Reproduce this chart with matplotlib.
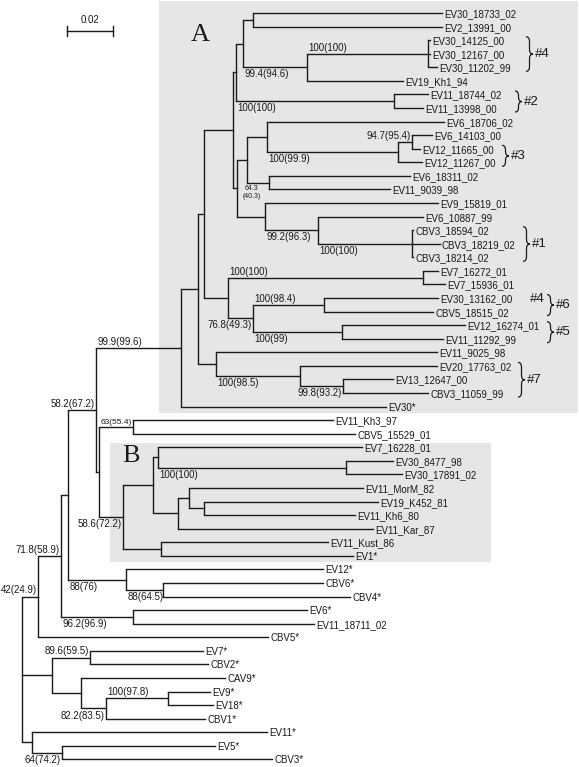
import matplotlib.pyplot as plt
from matplotlib.patches import Rectangle, PathPatch
from matplotlib.path import Path

# tips, top to bottom, and their distance from the root
tip_names = [
    "EV30_18733_02", "EV2_13991_00", "EV30_14125_00", "EV30_12167_00", "EV30_11202_99",
    "EV19_Kh1_94", "EV11_18744_02", "EV11_13998_00", "EV6_18706_02", "EV6_14103_00",
    "EV12_11665_00", "EV12_11267_00", "EV6_18311_02", "EV11_9039_98", "EV9_15819_01",
    "EV6_10887_99", "CBV3_18594_02", "CBV3_18219_02", "CBV3_18214_02", "EV7_16272_01",
    "EV7_15936_01", "EV30_13162_00", "CBV5_18515_02", "EV12_16274_01", "EV11_11292_99",
    "EV11_9025_98", "EV20_17763_02", "EV13_12647_00", "CBV3_11059_99", "EV30*",
    "EV11_Kh3_97", "CBV5_15529_01", "EV7_16228_01", "EV30_8477_98", "EV30_17891_02",
    "EV11_MorM_82", "EV19_K452_81", "EV11_Kh6_80", "EV11_Kar_87", "EV11_Kust_86",
    "EV1*", "EV12*", "CBV6*", "CBV4*", "EV6*", "EV11_18711_02", "CBV5*",
    "EV7*", "CBV2*", "CAV9*", "EV9*", "EV18*", "CBV1*", "EV11*", "EV5*", "CBV3*",
]
tip_depth = [
    0.1826, 0.1826, 0.1774, 0.1774, 0.1804,
    0.1657, 0.1765, 0.1743, 0.1835, 0.1783,
    0.1730, 0.1739, 0.1687, 0.1600, 0.1809,
    0.1743, 0.1700, 0.1817, 0.1700, 0.1809,
    0.1839, 0.1809, 0.1787, 0.1926, 0.1830,
    0.1804, 0.1804, 0.1613, 0.1765, 0.1583,
    0.1352, 0.1448, 0.1478, 0.1613, 0.1652,
    0.1483, 0.1548, 0.1448, 0.1526, 0.1330,
    0.1439, 0.1309, 0.1309, 0.1426, 0.1239, 0.1270, 0.1070,
    0.0787, 0.0809, 0.0883, 0.0817, 0.0830, 0.0796, 0.1065, 0.0839, 0.1087,
]

# internal nodes: id, children, distance from the root
node_ids = [
    "root", "n38", "n62", "n68", "n96", "A", "n198", "n204", "n233", "n236",
    "n243", "n253", "n307", "n428", "n394", "n237", "n247", "n267", "n398", "n412",
    "n269", "n265", "n318", "n412b", "n228", "n423", "n253b", "n324", "n342", "n216",
    "n300", "n343", "n99", "n133", "B", "n153", "n158", "n346", "n178", "n189",
    "n204b", "n161", "n126", "n163", "n133b", "n52", "n90", "n81", "n106", "n168",
    "n32", "n62b",
]
node_children = [
    ["n38", "n52", "n32"], ["n62", "CBV5*"], ["n68", "n133b"], ["n96", "n126"],
    ["A", "n99"], ["n198", "EV30*"], ["n204", "n216"], ["n233", "n228"],
    ["n236", "n237"], ["n243", "n394"], ["n253", "n307"],
    ["EV30_18733_02", "EV2_13991_00"], ["n428", "EV19_Kh1_94"],
    ["EV30_14125_00", "EV30_12167_00", "EV30_11202_99"],
    ["EV11_18744_02", "EV11_13998_00"], ["n247", "n265"], ["n267", "n269"],
    ["EV6_18706_02", "n398"], ["n412", "EV12_11267_00"],
    ["EV6_14103_00", "EV12_11665_00"], ["EV6_18311_02", "EV11_9039_98"],
    ["EV9_15819_01", "n318"], ["EV6_10887_99", "n412b"],
    ["CBV3_18594_02", "CBV3_18219_02", "CBV3_18214_02"], ["n423", "n253b"],
    ["EV7_16272_01", "EV7_15936_01"], ["n324", "n342"],
    ["EV30_13162_00", "CBV5_18515_02"], ["EV12_16274_01", "EV11_11292_99"],
    ["EV11_9025_98", "n300"], ["EV20_17763_02", "n343"],
    ["EV13_12647_00", "CBV3_11059_99"], ["n133", "B"],
    ["EV11_Kh3_97", "CBV5_15529_01"], ["n153", "n161"], ["n158", "n178"],
    ["EV7_16228_01", "n346"], ["EV30_8477_98", "EV30_17891_02"],
    ["n189", "EV11_Kar_87"], ["EV11_MorM_82", "n204b"],
    ["EV19_K452_81", "EV11_Kh6_80"], ["EV11_Kust_86", "EV1*"], ["EV12*", "n163"],
    ["CBV6*", "CBV4*"], ["EV6*", "EV11_18711_02"], ["n90", "n81"],
    ["EV7*", "CBV2*"], ["CAV9*", "n106"], ["n168", "CBV1*"], ["EV9*", "EV18*"],
    ["EV11*", "n62b"], ["EV5*", "CBV3*"],
]
node_depth = [
    0.0, 0.0070, 0.0170, 0.0200, 0.0322, 0.0691, 0.0765, 0.0791, 0.0917, 0.0930,
    0.0961, 0.1004, 0.1239, 0.1765, 0.1617, 0.0935, 0.0978, 0.1065, 0.1635, 0.1696,
    0.1074, 0.1057, 0.1287, 0.1696, 0.0896, 0.1743, 0.1004, 0.1313, 0.1391, 0.0843,
    0.1209, 0.1396, 0.0335, 0.0483, 0.0439, 0.0570, 0.0591, 0.1409, 0.0678, 0.0726,
    0.0791, 0.0604, 0.0452, 0.0613, 0.0483, 0.0130, 0.0296, 0.0257, 0.0365, 0.0635,
    0.0043, 0.0174,
]

# bootstrap support (NJ(MP))
support_nodes = [
    "n428", "n307", "n394", "n412", "n398", "n269", "n318", "n412b", "n423", "n324",
    "n253b", "n342", "n300", "n343", "A", "n96", "n133", "n346", "B", "n62",
    "n126", "n163", "n133b", "n38", "n90", "n168", "n106", "n62b",
]
support_texts = [
    "100(100)", "99.4(94.6)", "100(100)", "94.7(95.4)", "100(99.9)", "64.3\n(40.3)",
    "99.2(96.3)", "100(100)", "100(100)", "100(98.4)", "76.8(49.3)", "100(99)",
    "100(98.5)", "99.8(93.2)", "99.9(99.6)", "58.2(67.2)", "63(55.4)", "100(100)",
    "58.6(72.2)", "71.8(58.9)", "88(76)", "88(64.5)", "96.2(96.9)", "42(24.9)",
    "89.6(59.5)", "100(97.8)", "82.2(83.5)", "64(74.2)",
]

# genetic groups
group_names = ["#4", "#2", "#3", "#1", "#6", "#5", "#7"]
group_first = ["EV30_14125_00", "EV11_18744_02", "EV12_11665_00", "CBV3_18594_02",
               "EV30_13162_00", "EV12_16274_01", "EV20_17763_02"]
group_last = ["EV30_11202_99", "EV11_13998_00", "EV12_11267_00", "CBV3_18214_02",
              "CBV5_18515_02", "EV11_11292_99", "CBV3_11059_99"]

# ---------------------------------------------------------------- layout
SANS = ["Liberation Sans", "DejaVu Sans"]
INK = "#1a1a1a"


def px(x):
    return (x - 22) / 2300.0


def py(y):
    return (y - 13) / 13.57


depth = dict(zip(tip_names, tip_depth))
depth.update(zip(node_ids, node_depth))
children = dict(zip(node_ids, node_children))
parent = {c: n for n, cs in children.items() for c in cs}
ypos = {name: i for i, name in enumerate(tip_names)}


def get_y(name):
    if name not in ypos:
        cs = children[name]
        ypos[name] = (get_y(cs[0]) + get_y(cs[-1])) / 2.0
    return ypos[name]


get_y("root")

fig = plt.figure(figsize=(5.79, 7.67), dpi=100)
ax = fig.add_axes([0, 0, 1, 1])
ax.set_xlim(px(0), px(579))
ax.set_ylim(py(767), py(0))
ax.axis("off")

# shaded clades
ax.add_patch(Rectangle((px(159), py(1)), px(578) - px(159), py(413) - py(1),
                       facecolor="#e6e6e6", edgecolor="none", zorder=0))
ax.add_patch(Rectangle((px(110), py(443)), px(491) - px(110), py(562) - py(443),
                       facecolor="#e6e6e6", edgecolor="none", zorder=0))
ax.text(px(200), py(35), "A", fontsize=19, family="Liberation Serif",
        ha="center", va="center", color=INK)
ax.text(px(131), py(456), "B", fontsize=19, family="Liberation Serif",
        ha="center", va="center", color=INK)

# branches
for n, cs in children.items():
    x0 = depth[n]
    ax.plot([x0, x0], [get_y(cs[0]), get_y(cs[-1])], color=INK, lw=1.0,
            solid_capstyle="butt")
    for c in cs:
        ax.plot([x0, depth[c]], [get_y(c), get_y(c)], color=INK, lw=1.0,
                solid_capstyle="projecting")

for name in tip_names:
    ax.annotate(name, (depth[name], get_y(name)), xytext=(1.5, -0.8),
                textcoords="offset points", ha="left", va="center",
                fontsize=7, family=SANS, color=INK)

# support labels: 'a'/'b' = above/below branch from parent, 'L'/'l' = left of node above/below
label_side = {
    "n428": "a", "n307": "b", "n394": "b", "n412": "L", "n398": "b", "n269": "b",
    "n318": "b", "n412b": "b", "n423": "a", "n324": "a", "n253b": "l", "n342": "b",
    "n300": "b", "n343": "l", "A": "a", "n96": "L", "n133": "a", "n346": "b",
    "B": "l", "n62": "L", "n126": "b", "n163": "b", "n133b": "b", "n38": "L",
    "n90": "L", "n168": "a", "n106": "l", "n62b": "l",
}
for n, t in zip(support_nodes, support_texts):
    side = label_side[n]
    y = get_y(n)
    fs = 7
    if n == "n133":
        fs = 6
    if "\n" in t:
        fs = 5
    if side in "ab":
        x = depth[parent[n]]
        dx, ha = 1.0, "left"
    else:
        x = depth[n]
        dx, ha = -1.0, "right"
    if side in "aL":
        dy, va = 0.8, "bottom"
    else:
        dy, va = -1.5, "top"
    if "\n" in t:
        ax.annotate(t, (x, y), xytext=(dx + 2.5, dy), textcoords="offset points",
                    ha="center", va=va, fontsize=fs, family=SANS, color=INK,
                    linespacing=1.2)
    else:
        ax.annotate(t, (x, y), xytext=(dx, dy), textcoords="offset points",
                    ha=ha, va=va, fontsize=fs, family=SANS, color=INK)


def brace(xl, y0, y1, w):
    h = min(0.35, (y1 - y0) / 4.0)
    ym = (y0 + y1) / 2.0
    xm = xl + w / 2.0
    verts = [(xl, y0), (xm, y0), (xm, y0 + h), (xm, ym - h), (xm, ym), (xl + w, ym),
             (xm, ym), (xm, ym + h), (xm, y1 - h), (xm, y1), (xl, y1)]
    codes = [Path.MOVETO, Path.CURVE3, Path.CURVE3, Path.LINETO, Path.CURVE3,
             Path.CURVE3, Path.CURVE3, Path.CURVE3, Path.LINETO, Path.CURVE3,
             Path.CURVE3]
    ax.add_patch(PathPatch(Path(verts, codes), facecolor="none", edgecolor=INK,
                           lw=0.9))


brace_x = [526, 515, 502, 523, 547, 547, 518]
for g, a, b, bx in zip(group_names, group_first, group_last, brace_x):
    y0 = get_y(a) - 0.25
    y1 = get_y(b) + 0.3
    brace(px(bx), y0, y1, px(bx + 7) - px(bx))
    ax.text(px(bx + 9), (y0 + y1) / 2.0, g, fontsize=9.5, family=SANS,
            ha="left", va="center", color=INK)
ax.text(px(530), get_y("EV30_13162_00") + 0.05, "#4", fontsize=9.5, family=SANS,
        ha="left", va="center", color=INK)

# scale bar
sx = px(67)
sy = py(31)
ax.plot([sx, sx + 0.02], [sy, sy], color=INK, lw=1.0)
ax.plot([sx, sx], [sy - 0.4, sy + 0.4], color=INK, lw=1.0)
ax.plot([sx + 0.02, sx + 0.02], [sy - 0.4, sy + 0.4], color=INK, lw=1.0)
ax.text(sx + 0.01, sy - 0.45, "0.02", fontsize=7, family=SANS, ha="center",
        va="bottom", color=INK)

fig.savefig("out.png", dpi=100, facecolor="white")
